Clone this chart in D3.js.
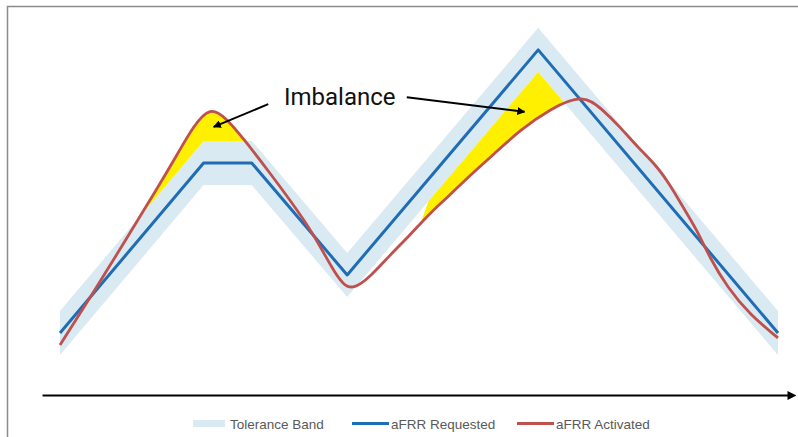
<!DOCTYPE html>
<html>
<head>
<meta charset="utf-8">
<script src="https://cdn.jsdelivr.net/npm/d3@7"></script>
<style>
  body { margin: 0; background: #fff; }
  svg { display: block; }
</style>
</head>
<body>
<script>
// Data (time in % of window, power in % of peak)
var reqTime = [0, 20, 26.7, 40, 66.6, 100];
var reqValue = [17.7, 66.3, 66.3, 34.3, 98.6, 17.7];
var tolerance = 6.3;

var actTime = [0, 5.15, 9.33, 13.51, 16.43, 18.52, 20.89, 23.26, 25.49, 29.25, 32.03, 35.24, 38.02,
  39.42, 40.81, 43.18, 45.96, 48.75, 51.53, 54.32, 56.69, 60.58, 64.07, 68.25, 72.84,
  75.63, 77.99, 80.36, 83.15, 84.96, 86.77, 88.72, 90.53, 92.9, 96.1, 100];
var actValue = [14.3, 30.9, 44.9, 58.9, 69.1, 76.6, 82.6, 78.9, 73.4, 63.4, 55.7, 46.3, 35.7,
  31.6, 30.1, 33.7, 40.0, 45.7, 52.0, 57.1, 62.0, 69.1, 75.7, 81.7, 86.1,
  81.4, 76.6, 71.0, 65.4, 60.0, 53.7, 47.1, 39.1, 30.9, 22.9, 16.3];

var legendLabels = ["Tolerance Band", "aFRR Requested", "aFRR Activated"];
var annotationText = "Imbalance";

var svgWidth = 798;
var svgHeight = 437;

var svg = d3.select("body")
  .append("svg")
  .attr("width", svgWidth)
  .attr("height", svgHeight);

// outer frame (cut off at right and bottom)
svg.append("rect")
  .attr("x", 7.5)
  .attr("y", 6.5)
  .attr("width", 800)
  .attr("height", 440)
  .attr("fill", "none")
  .attr("stroke", "#8c8c8c")
  .attr("stroke-width", 1.5);

var xScale = d3.scaleLinear().domain([0, 100]).range([60, 778]);
var yScale = d3.scaleLinear().domain([0, 100]).range([395, 45]);

var requested = reqTime.map((t, i) => ({ t: t, v: reqValue[i] }));
var activated = actTime.map((t, i) => ({ t: t, v: actValue[i] }));

var defs = svg.append("defs");

// arrow heads
defs.append("marker")
  .attr("id", "arrowSmall")
  .attr("viewBox", "0 0 10 10")
  .attr("refX", 9).attr("refY", 5)
  .attr("markerWidth", 4).attr("markerHeight", 4)
  .attr("orient", "auto")
  .append("path").attr("d", "M0,0 L10,5 L0,10 z").attr("fill", "#000");

defs.append("marker")
  .attr("id", "arrowAxis")
  .attr("viewBox", "0 0 10 10")
  .attr("refX", 2).attr("refY", 5)
  .attr("markerWidth", 4.5).attr("markerHeight", 4.5)
  .attr("orient", "auto")
  .append("path").attr("d", "M0,0 L10,5 L0,10 z").attr("fill", "#000");

// tolerance band
var band = d3.area()
  .x(d => xScale(d.t))
  .y0(d => yScale(d.v - tolerance))
  .y1(d => yScale(d.v + tolerance));

svg.append("path")
  .datum(requested)
  .attr("d", band)
  .attr("fill", "#d9eaf2");

// clip regions: above the band and below the band
defs.append("clipPath").attr("id", "aboveBand")
  .append("path")
  .datum(requested)
  .attr("d", d3.area()
    .x(d => xScale(d.t))
    .y0(yScale(120))
    .y1(d => yScale(d.v + tolerance)));

defs.append("clipPath").attr("id", "belowBand")
  .append("path")
  .datum(requested)
  .attr("d", d3.area()
    .x(d => xScale(d.t))
    .y0(d => yScale(d.v - tolerance))
    .y1(yScale(-10)));

// windows where the imbalance is marked (left edge of the right one is slanted)
var leftWindow = [[10, -10], [10, 120], [32, 120], [32, -10]];
var rightWindow = [[41.9, 0], [58.9, 100], [76, 100], [76, 0]];
var poly = d3.line().x(d => xScale(d[0])).y(d => yScale(d[1]));

defs.append("clipPath").attr("id", "leftPeak")
  .append("path").attr("d", poly(leftWindow) + "Z");

defs.append("clipPath").attr("id", "rightPeak")
  .append("path").attr("d", poly(rightWindow) + "Z");

var curve = d3.curveBasis;

// imbalance: activated above band (left) and below band (right)
svg.append("g").attr("clip-path", "url(#leftPeak)")
  .append("path")
  .datum(activated)
  .attr("clip-path", "url(#aboveBand)")
  .attr("d", d3.area().curve(curve)
    .x(d => xScale(d.t))
    .y0(yScale(0))
    .y1(d => yScale(d.v)))
  .attr("fill", "#fff000");

svg.append("g").attr("clip-path", "url(#rightPeak)")
  .append("path")
  .datum(activated)
  .attr("clip-path", "url(#belowBand)")
  .attr("d", d3.area().curve(curve)
    .x(d => xScale(d.t))
    .y0(yScale(110))
    .y1(d => yScale(d.v)))
  .attr("fill", "#fff000");

// requested line
svg.append("path")
  .datum(requested)
  .attr("d", d3.line().x(d => xScale(d.t)).y(d => yScale(d.v)))
  .attr("fill", "none")
  .attr("stroke", "#1f6db4")
  .attr("stroke-width", 3)
  .attr("stroke-linejoin", "round");

// activated line
svg.append("path")
  .datum(activated)
  .attr("d", d3.line().curve(curve).x(d => xScale(d.t)).y(d => yScale(d.v)))
  .attr("fill", "none")
  .attr("stroke", "#c0504d")
  .attr("stroke-width", 2.8);

// time axis with arrow
var axisScale = d3.scaleLinear().domain([-2.5, 101.5]).range([xScale(-2.5), xScale(101.5)]);
var axisG = svg.append("g")
  .attr("transform", `translate(0, ${yScale(0)})`)
  .call(d3.axisBottom(axisScale).tickValues([]).tickSizeOuter(0));
axisG.select(".domain")
  .attr("stroke", "#000")
  .attr("stroke-width", 2)
  .attr("marker-end", "url(#arrowAxis)");

// annotation
svg.append("text")
  .attr("x", xScale(31.2))
  .attr("y", yScale(82.9))
  .attr("font-family", "Roboto, 'Liberation Sans', sans-serif")
  .attr("font-size", 24)
  .attr("fill", "#111")
  .text(annotationText);

var arrows = [
  [[29.0, 83.1], [21.4, 76.6]],
  [[48.3, 85.1], [64.7, 80.9]]
];
svg.selectAll(".ann")
  .data(arrows)
  .enter()
  .append("line")
  .attr("x1", d => xScale(d[0][0]))
  .attr("y1", d => yScale(d[0][1]))
  .attr("x2", d => xScale(d[1][0]))
  .attr("y2", d => yScale(d[1][1]))
  .attr("stroke", "#000")
  .attr("stroke-width", 2)
  .attr("marker-end", "url(#arrowSmall)");

// legend
var legendX = [193, 352, 517];
var legend = svg.append("g");
legendLabels.forEach(function(label, i) {
  var g = legend.append("g").attr("transform", `translate(${legendX[i]}, 423.5)`);
  if (i === 0) {
    g.append("rect").attr("x", 0).attr("y", -3.5).attr("width", 32).attr("height", 7).attr("fill", "#d9eaf2");
  } else {
    g.append("line").attr("x1", 0).attr("x2", 37).attr("y1", 0).attr("y2", 0)
      .attr("stroke", i === 1 ? "#1f6db4" : "#c0504d").attr("stroke-width", 3);
  }
  g.append("text")
    .attr("x", i === 0 ? 37 : 39)
    .attr("y", 5)
    .attr("font-family", "'Liberation Sans', Arial, sans-serif")
    .attr("font-size", 13.5)
    .attr("fill", "#595959")
    .text(label);
});
</script>
</body>
</html>
